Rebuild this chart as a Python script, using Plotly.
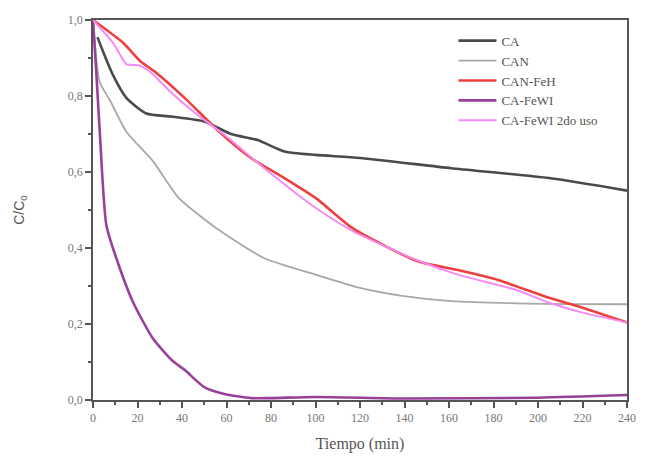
import plotly.graph_objects as go

t_ca = [2, 5, 9, 15, 24, 35, 50, 62, 74, 86, 100, 120, 161, 205, 240]
v_ca = [0.955, 0.91, 0.855, 0.795, 0.754, 0.746, 0.733, 0.70, 0.684, 0.654, 0.645, 0.637, 0.61, 0.584, 0.551]

t_can = [0, 3, 7.5, 15, 27, 38.5, 55, 77, 100, 120, 139, 161, 205, 240]
v_can = [1.0, 0.837, 0.79, 0.706, 0.628, 0.532, 0.454, 0.373, 0.33, 0.295, 0.274, 0.26, 0.253, 0.252]

t_feh = [0, 13.5, 21, 28, 41.5, 56, 71, 86, 100, 117, 146, 164, 182, 205, 220, 240]
v_feh = [1.0, 0.94, 0.893, 0.863, 0.793, 0.71, 0.637, 0.584, 0.532, 0.451, 0.365, 0.342, 0.316, 0.269, 0.243, 0.204]

t_fewi = [0, 1.5, 3, 6, 10.5, 17.8, 26.7, 35.6, 41.4, 50, 59, 71, 80, 100, 140, 200, 240]
v_fewi = [1.0, 0.86, 0.71, 0.46, 0.373, 0.26, 0.164, 0.104, 0.078, 0.034, 0.016, 0.005, 0.005, 0.008, 0.004, 0.006, 0.013]

t_fewi2 = [0, 9, 15, 21, 26, 35, 47, 59, 77, 100, 117, 146, 164, 190, 205, 220, 240]
v_fewi2 = [1.0, 0.94, 0.884, 0.88, 0.862, 0.81, 0.75, 0.698, 0.61, 0.506, 0.444, 0.367, 0.33, 0.29, 0.256, 0.23, 0.204]

series = [
    ("CA", t_ca, v_ca, "#4a4a4a", 2.6),
    ("CAN", t_can, v_can, "#a8a8a8", 1.8),
    ("CAN-FeH", t_feh, v_feh, "#ee3f3f", 2.6),
    ("CA-FeWI", t_fewi, v_fewi, "#98409a", 2.6),
    ("CA-FeWI 2do uso", t_fewi2, v_fewi2, "#f48af4", 2.0),
]

fig = go.Figure()
for name, t, v, c, w in series:
    fig.add_trace(go.Scatter(x=t, y=v, mode="lines", name=name,
                             line=dict(color=c, width=w, shape="spline", smoothing=0.6)))

axis_common = dict(showline=True, linecolor="#555", linewidth=1.5, mirror=True,
                   ticks="outside", tickcolor="#555", tickwidth=1.5, ticklen=6,
                   showgrid=False, zeroline=False,
                   tickfont=dict(family="Liberation Serif", size=12, color="#777"))

fig.update_xaxes(range=[0, 240], dtick=20, tick0=0,
                 minor=dict(dtick=10, ticks="outside", ticklen=3, tickcolor="#555"),
                 title=dict(text="Tiempo (min)", font=dict(family="Liberation Serif", size=16, color="#555"),
                            standoff=14),
                 **axis_common)
fig.update_yaxes(range=[0, 1.0], dtick=0.2, tick0=0, tickformat=".1f",
                 minor=dict(dtick=0.1, ticks="outside", ticklen=3, tickcolor="#555"),
                 title=dict(text="C/C<sub>0</sub>", font=dict(family="Liberation Sans", size=14, color="#555"),
                            standoff=40),
                 **axis_common)

fig.update_layout(
    width=648, height=462,
    margin=dict(l=93, r=12, t=20, b=58),
    plot_bgcolor="white", paper_bgcolor="white",
    separators=",.",
    legend=dict(x=0.675, y=0.985, xanchor="left", yanchor="top",
                bgcolor="rgba(0,0,0,0)", tracegroupgap=0, itemwidth=38,
                font=dict(family="Liberation Serif", size=13, color="#555")),
    showlegend=True,
)

fig.write_html("out.html", config={"displayModeBar": False},
               post_script="document.body.style.margin='0';document.body.style.overflow='hidden';")
